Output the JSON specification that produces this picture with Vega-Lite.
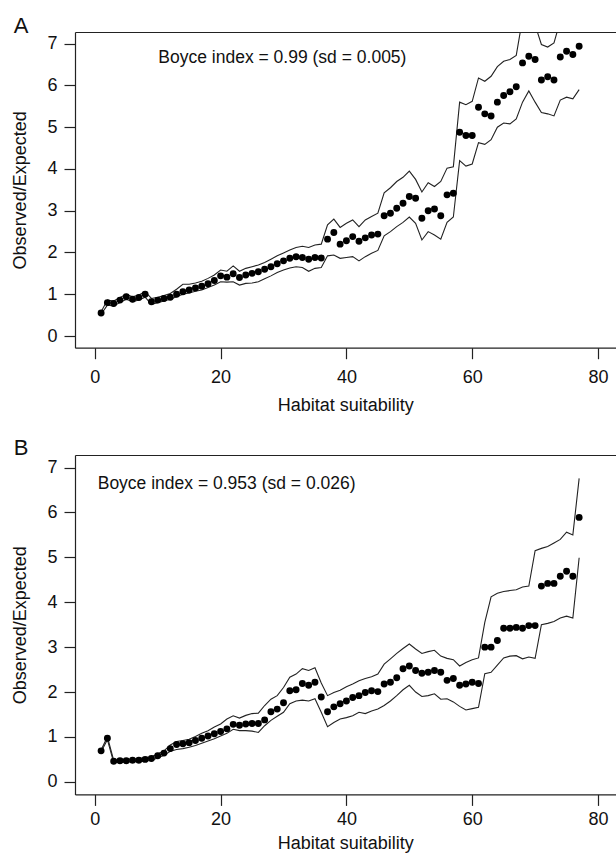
{
  "$schema": "https://vega.github.io/schema/vega-lite/v6.json",
  "padding": {"left": 11, "top": 15, "right": 0, "bottom": 0},
  "background": "white",
  "config": {
    "view": {"stroke": null},
    "font": "Liberation Sans",
    "axis": {"domainColor": "#222", "tickColor": "#222", "labelColor": "#111", "titleColor": "#111", "labelFont": "Liberation Sans", "titleFont": "Liberation Sans", "labelFontSize": 18, "titleFontSize": 18, "titleFontWeight": "normal", "grid": false, "tickSize": 11, "domainWidth": 1.2, "tickWidth": 1.2},
    "title": {"font": "Liberation Sans", "fontSize": 22, "fontWeight": "normal", "anchor": "start", "frame": "bounds", "color": "#111"},
    "concat": {"spacing": 22}
  },
  "datasets": {
    "panelA": [
      {"x":1,"obs":0.55,"upper":0.58,"lower":0.52},
      {"x":2,"obs":0.80,"upper":0.86,"lower":0.74},
      {"x":3,"obs":0.78,"upper":0.84,"lower":0.72},
      {"x":4,"obs":0.86,"upper":0.92,"lower":0.80},
      {"x":5,"obs":0.94,"upper":1.00,"lower":0.88},
      {"x":6,"obs":0.88,"upper":0.94,"lower":0.82},
      {"x":7,"obs":0.92,"upper":0.98,"lower":0.86},
      {"x":8,"obs":1.00,"upper":1.06,"lower":0.93},
      {"x":9,"obs":0.82,"upper":0.90,"lower":0.76},
      {"x":10,"obs":0.86,"upper":0.93,"lower":0.80},
      {"x":11,"obs":0.90,"upper":0.97,"lower":0.84},
      {"x":12,"obs":0.93,"upper":1.02,"lower":0.88},
      {"x":13,"obs":1.00,"upper":1.12,"lower":0.94},
      {"x":14,"obs":1.06,"upper":1.24,"lower":1.00},
      {"x":15,"obs":1.10,"upper":1.24,"lower":1.03},
      {"x":16,"obs":1.15,"upper":1.27,"lower":1.07},
      {"x":17,"obs":1.19,"upper":1.31,"lower":1.10},
      {"x":18,"obs":1.25,"upper":1.38,"lower":1.16},
      {"x":19,"obs":1.33,"upper":1.46,"lower":1.22},
      {"x":20,"obs":1.44,"upper":1.58,"lower":1.30},
      {"x":21,"obs":1.41,"upper":1.55,"lower":1.29},
      {"x":22,"obs":1.49,"upper":1.68,"lower":1.30},
      {"x":23,"obs":1.40,"upper":1.55,"lower":1.22},
      {"x":24,"obs":1.46,"upper":1.62,"lower":1.26},
      {"x":25,"obs":1.50,"upper":1.66,"lower":1.27},
      {"x":26,"obs":1.54,"upper":1.70,"lower":1.30},
      {"x":27,"obs":1.60,"upper":1.76,"lower":1.37},
      {"x":28,"obs":1.66,"upper":1.84,"lower":1.44},
      {"x":29,"obs":1.73,"upper":1.92,"lower":1.52},
      {"x":30,"obs":1.80,"upper":1.99,"lower":1.58},
      {"x":31,"obs":1.86,"upper":2.06,"lower":1.63},
      {"x":32,"obs":1.90,"upper":2.12,"lower":1.66},
      {"x":33,"obs":1.88,"upper":2.15,"lower":1.64},
      {"x":34,"obs":1.84,"upper":2.12,"lower":1.55},
      {"x":35,"obs":1.88,"upper":2.18,"lower":1.62},
      {"x":36,"obs":1.87,"upper":2.20,"lower":1.64},
      {"x":37,"obs":2.32,"upper":2.66,"lower":1.92},
      {"x":38,"obs":2.48,"upper":2.80,"lower":1.94},
      {"x":39,"obs":2.20,"upper":2.60,"lower":1.86},
      {"x":40,"obs":2.28,"upper":2.70,"lower":1.88},
      {"x":41,"obs":2.38,"upper":2.78,"lower":1.90},
      {"x":42,"obs":2.27,"upper":2.62,"lower":1.80},
      {"x":43,"obs":2.35,"upper":2.78,"lower":1.90},
      {"x":44,"obs":2.42,"upper":2.86,"lower":1.98},
      {"x":45,"obs":2.44,"upper":2.94,"lower":2.05},
      {"x":46,"obs":2.88,"upper":3.43,"lower":2.40},
      {"x":47,"obs":2.94,"upper":3.55,"lower":2.50},
      {"x":48,"obs":3.06,"upper":3.70,"lower":2.62},
      {"x":49,"obs":3.18,"upper":3.80,"lower":2.72},
      {"x":50,"obs":3.34,"upper":3.95,"lower":2.85},
      {"x":51,"obs":3.30,"upper":3.75,"lower":2.70},
      {"x":52,"obs":2.82,"upper":3.45,"lower":2.30},
      {"x":53,"obs":3.00,"upper":3.67,"lower":2.50},
      {"x":54,"obs":3.04,"upper":3.58,"lower":2.42},
      {"x":55,"obs":2.88,"upper":3.70,"lower":2.32},
      {"x":56,"obs":3.38,"upper":4.02,"lower":2.72},
      {"x":57,"obs":3.42,"upper":4.05,"lower":2.85},
      {"x":58,"obs":4.88,"upper":5.60,"lower":4.20},
      {"x":59,"obs":4.80,"upper":5.54,"lower":4.07},
      {"x":60,"obs":4.80,"upper":5.62,"lower":4.12},
      {"x":61,"obs":5.48,"upper":6.18,"lower":4.63},
      {"x":62,"obs":5.32,"upper":6.10,"lower":4.59},
      {"x":63,"obs":5.27,"upper":6.22,"lower":4.70},
      {"x":64,"obs":5.60,"upper":6.45,"lower":5.00},
      {"x":65,"obs":5.76,"upper":6.58,"lower":5.10},
      {"x":66,"obs":5.85,"upper":6.62,"lower":5.08},
      {"x":67,"obs":5.97,"upper":6.72,"lower":5.20},
      {"x":68,"obs":6.54,"upper":7.60,"lower":5.60},
      {"x":69,"obs":6.70,"upper":7.75,"lower":5.87},
      {"x":70,"obs":6.62,"upper":7.45,"lower":5.60},
      {"x":71,"obs":6.13,"upper":6.98,"lower":5.35},
      {"x":72,"obs":6.21,"upper":6.92,"lower":5.32},
      {"x":73,"obs":6.13,"upper":7.02,"lower":5.27},
      {"x":74,"obs":6.68,"upper":7.55,"lower":5.65},
      {"x":75,"obs":6.82,"upper":7.70,"lower":5.72},
      {"x":76,"obs":6.74,"upper":7.70,"lower":5.68},
      {"x":77,"obs":6.94,"upper":7.90,"lower":5.90}
    ],
    "panelB": [
      {"x":1,"obs":0.69,"upper":0.71,"lower":0.67},
      {"x":2,"obs":0.97,"upper":1.00,"lower":0.94},
      {"x":3,"obs":0.46,"upper":0.48,"lower":0.43},
      {"x":4,"obs":0.47,"upper":0.50,"lower":0.44},
      {"x":5,"obs":0.47,"upper":0.50,"lower":0.44},
      {"x":6,"obs":0.48,"upper":0.51,"lower":0.45},
      {"x":7,"obs":0.48,"upper":0.52,"lower":0.45},
      {"x":8,"obs":0.50,"upper":0.54,"lower":0.46},
      {"x":9,"obs":0.52,"upper":0.56,"lower":0.48},
      {"x":10,"obs":0.58,"upper":0.62,"lower":0.53},
      {"x":11,"obs":0.64,"upper":0.69,"lower":0.59},
      {"x":12,"obs":0.74,"upper":0.82,"lower":0.68},
      {"x":13,"obs":0.83,"upper":0.90,"lower":0.72},
      {"x":14,"obs":0.85,"upper":0.92,"lower":0.74},
      {"x":15,"obs":0.87,"upper":0.95,"lower":0.77},
      {"x":16,"obs":0.92,"upper":1.01,"lower":0.81},
      {"x":17,"obs":0.97,"upper":1.08,"lower":0.86},
      {"x":18,"obs":1.02,"upper":1.14,"lower":0.91},
      {"x":19,"obs":1.07,"upper":1.22,"lower":0.96},
      {"x":20,"obs":1.12,"upper":1.29,"lower":1.02},
      {"x":21,"obs":1.18,"upper":1.40,"lower":1.08},
      {"x":22,"obs":1.28,"upper":1.47,"lower":1.17},
      {"x":23,"obs":1.26,"upper":1.42,"lower":1.14},
      {"x":24,"obs":1.29,"upper":1.48,"lower":1.14},
      {"x":25,"obs":1.30,"upper":1.52,"lower":1.13},
      {"x":26,"obs":1.30,"upper":1.53,"lower":1.10},
      {"x":27,"obs":1.38,"upper":1.70,"lower":1.25},
      {"x":28,"obs":1.56,"upper":1.84,"lower":1.37},
      {"x":29,"obs":1.62,"upper":1.92,"lower":1.46},
      {"x":30,"obs":1.76,"upper":2.10,"lower":1.55},
      {"x":31,"obs":2.03,"upper":2.33,"lower":1.74},
      {"x":32,"obs":2.05,"upper":2.40,"lower":1.80},
      {"x":33,"obs":2.19,"upper":2.52,"lower":1.82},
      {"x":34,"obs":2.15,"upper":2.48,"lower":1.80},
      {"x":35,"obs":2.22,"upper":2.54,"lower":1.85},
      {"x":36,"obs":1.89,"upper":2.20,"lower":1.55},
      {"x":37,"obs":1.56,"upper":1.92,"lower":1.23},
      {"x":38,"obs":1.67,"upper":1.99,"lower":1.32},
      {"x":39,"obs":1.74,"upper":2.04,"lower":1.40},
      {"x":40,"obs":1.80,"upper":2.12,"lower":1.43},
      {"x":41,"obs":1.88,"upper":2.18,"lower":1.47},
      {"x":42,"obs":1.92,"upper":2.25,"lower":1.55},
      {"x":43,"obs":1.99,"upper":2.30,"lower":1.52},
      {"x":44,"obs":2.03,"upper":2.34,"lower":1.58},
      {"x":45,"obs":2.01,"upper":2.40,"lower":1.62},
      {"x":46,"obs":2.18,"upper":2.62,"lower":1.70},
      {"x":47,"obs":2.22,"upper":2.74,"lower":1.80},
      {"x":48,"obs":2.32,"upper":2.86,"lower":1.92},
      {"x":49,"obs":2.52,"upper":2.97,"lower":2.05},
      {"x":50,"obs":2.58,"upper":3.07,"lower":2.15},
      {"x":51,"obs":2.48,"upper":2.96,"lower":2.00},
      {"x":52,"obs":2.42,"upper":2.86,"lower":1.90},
      {"x":53,"obs":2.44,"upper":2.90,"lower":1.92},
      {"x":54,"obs":2.48,"upper":2.93,"lower":1.96},
      {"x":55,"obs":2.44,"upper":2.80,"lower":1.84},
      {"x":56,"obs":2.26,"upper":2.75,"lower":1.85},
      {"x":57,"obs":2.30,"upper":2.72,"lower":1.78},
      {"x":58,"obs":2.15,"upper":2.58,"lower":1.68},
      {"x":59,"obs":2.18,"upper":2.66,"lower":1.60},
      {"x":60,"obs":2.22,"upper":2.72,"lower":1.63},
      {"x":61,"obs":2.19,"upper":2.76,"lower":1.66},
      {"x":62,"obs":3.00,"upper":3.55,"lower":2.41},
      {"x":63,"obs":3.00,"upper":4.12,"lower":2.44},
      {"x":64,"obs":3.15,"upper":4.20,"lower":2.60},
      {"x":65,"obs":3.42,"upper":4.24,"lower":2.76},
      {"x":66,"obs":3.42,"upper":4.26,"lower":2.80},
      {"x":67,"obs":3.44,"upper":4.28,"lower":2.81},
      {"x":68,"obs":3.42,"upper":4.34,"lower":2.74},
      {"x":69,"obs":3.48,"upper":4.36,"lower":2.78},
      {"x":70,"obs":3.48,"upper":5.15,"lower":2.75},
      {"x":71,"obs":4.36,"upper":5.20,"lower":3.50},
      {"x":72,"obs":4.42,"upper":5.24,"lower":3.53},
      {"x":73,"obs":4.42,"upper":5.32,"lower":3.57},
      {"x":74,"obs":4.58,"upper":5.40,"lower":3.65},
      {"x":75,"obs":4.69,"upper":5.56,"lower":3.69},
      {"x":76,"obs":4.58,"upper":5.50,"lower":3.65},
      {"x":77,"obs":5.89,"upper":6.76,"lower":4.99}
    ]
  },
  "vconcat": [
    {
      "title": {"text": "A", "baseline": "alphabetic", "offset": -23, "dx": 2},
      "width": 540.5,
      "height": 315.7,
      "data": {"name": "panelA"},
      "resolve": {"axis": {"x": "independent"}},
      "layer": [
        {
          "transform": [{"fold": ["upper", "lower"], "as": ["band", "value"]}],
          "mark": {"type": "line", "color": "#222", "strokeWidth": 1.1, "clip": true},
          "encoding": {
            "x": {"field": "x", "type": "quantitative", "scale": {"domain": [-3.15, 82.78], "nice": false, "zero": false}, "axis": {"orient": "top", "labels": false, "ticks": false, "title": null, "minExtent": 0, "maxExtent": 0, "offset": 0}},
            "y": {"field": "value", "type": "quantitative", "title": "Observed/Expected", "scale": {"domain": [-0.28, 7.28], "nice": false, "zero": false}, "axis": {"values": [0,1,2,3,4,5,6,7], "labelPadding": 7, "titlePadding": 17.3}},
            "detail": {"field": "band"}
          }
        },
        {
          "mark": {"type": "circle", "size": 48, "color": "#000", "opacity": 1},
          "encoding": {
            "x": {"field": "x", "type": "quantitative", "title": "Habitat suitability", "axis": {"orient": "bottom", "values": [0,20,40,60,80], "labelPadding": 10, "titlePadding": 10}},
            "y": {"field": "obs", "type": "quantitative", "title": "Observed/Expected", "axis": {"values": [0,1,2,3,4,5,6,7], "labelPadding": 7, "titlePadding": 17.3}}
          }
        },
        {
          "data": {"values": [{"tx": 10.1, "ty": 6.66, "label": "Boyce index = 0.99 (sd = 0.005)"}]},
          "mark": {"type": "text", "align": "left", "baseline": "middle", "fontSize": 17.5, "font": "Liberation Sans", "color": "#111"},
          "encoding": {
            "x": {"field": "tx", "type": "quantitative", "axis": null},
            "y": {"field": "ty", "type": "quantitative", "title": "Observed/Expected", "axis": {"values": [0,1,2,3,4,5,6,7], "labelPadding": 7, "titlePadding": 17.3}},
            "text": {"field": "label"}
          }
        }
      ]
    },
    {
      "title": {"text": "B", "baseline": "alphabetic", "offset": -22, "dx": 2},
      "width": 540.5,
      "height": 339.4,
      "data": {"name": "panelB"},
      "resolve": {"axis": {"x": "independent"}},
      "layer": [
        {
          "transform": [{"fold": ["upper", "lower"], "as": ["band", "value"]}],
          "mark": {"type": "line", "color": "#222", "strokeWidth": 1.1, "clip": true},
          "encoding": {
            "x": {"field": "x", "type": "quantitative", "scale": {"domain": [-3.15, 82.78], "nice": false, "zero": false}, "axis": {"orient": "top", "labels": false, "ticks": false, "title": null, "minExtent": 0, "maxExtent": 0, "offset": 0}},
            "y": {"field": "value", "type": "quantitative", "title": "Observed/Expected", "scale": {"domain": [-0.28, 7.28], "nice": false, "zero": false}, "axis": {"values": [0,1,2,3,4,5,6,7], "labelPadding": 7, "titlePadding": 17.3}},
            "detail": {"field": "band"}
          }
        },
        {
          "mark": {"type": "circle", "size": 48, "color": "#000", "opacity": 1},
          "encoding": {
            "x": {"field": "x", "type": "quantitative", "title": "Habitat suitability", "axis": {"orient": "bottom", "values": [0,20,40,60,80], "labelPadding": 5, "titlePadding": 6.5}},
            "y": {"field": "obs", "type": "quantitative", "title": "Observed/Expected", "axis": {"values": [0,1,2,3,4,5,6,7], "labelPadding": 7, "titlePadding": 17.3}}
          }
        },
        {
          "data": {"values": [{"tx": 0.46, "ty": 6.64, "label": "Boyce index = 0.953 (sd = 0.026)"}]},
          "mark": {"type": "text", "align": "left", "baseline": "middle", "fontSize": 17.5, "font": "Liberation Sans", "color": "#111"},
          "encoding": {
            "x": {"field": "tx", "type": "quantitative", "axis": null},
            "y": {"field": "ty", "type": "quantitative", "title": "Observed/Expected", "axis": {"values": [0,1,2,3,4,5,6,7], "labelPadding": 7, "titlePadding": 17.3}},
            "text": {"field": "label"}
          }
        }
      ]
    }
  ]
}
